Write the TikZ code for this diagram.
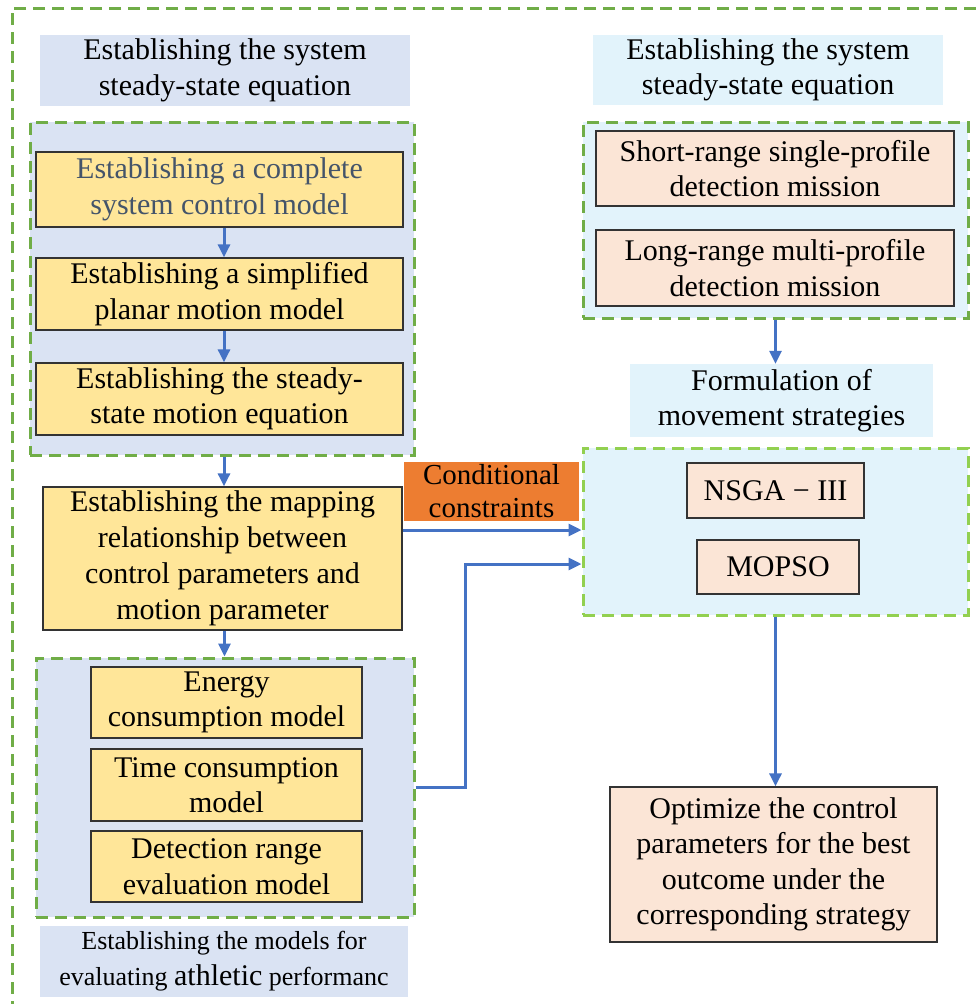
\documentclass[tikz,border=0pt]{standalone}
\usepackage{fontspec}
\setmainfont{Liberation Serif}
\newfontfamily\tnr{Liberation Serif}
\usetikzlibrary{arrows.meta,positioning}
\definecolor{blueL}{HTML}{DAE3F3}
\definecolor{cyanL}{HTML}{E2F3FB}
\definecolor{yel}{HTML}{FFE699}
\definecolor{peach}{HTML}{FBE5D6}
\definecolor{orng}{HTML}{ED7D31}
\definecolor{grn}{HTML}{70AD47}
\definecolor{lime}{HTML}{92D050}
\definecolor{arrblue}{HTML}{4472C4}
\definecolor{boxtxt}{HTML}{44546A}
\tikzset{
  base/.style={inner sep=0pt, align=center, font=\tnr\fontsize{30}{35.5}\selectfont},
  hdr/.style={base, rectangle},
  grp/.style={rectangle, draw=grn, line width=3pt, dash pattern=on 12pt off 7pt, inner sep=0pt},
  ybox/.style={base, draw=black!80, line width=1.3pt, fill=yel},
  pbox/.style={base, draw=black!80, line width=1.3pt, fill=peach},
  arr/.style={draw=arrblue, line width=3pt, -{Triangle[length=13pt,width=12pt]}},
}
\begin{document}
\begin{tikzpicture}[x=1pt,y=-1pt]
\useasboundingbox (0,0) rectangle (976,1004);
\fill[white] (0,0) rectangle (976,1004);
% outer frame
\draw[grp] (976,8) -- (12,8) -- (12,1004);
% left column
\node[hdr, fill=blueL, minimum width=370pt, minimum height=71pt] (hdrL) at (225,70.5) {Establishing the system\\steady-state equation};
\node[grp, fill=blueL, minimum width=384pt, minimum height=333pt] (grpL1) at (222,288.5) {};
\node[ybox, text=boxtxt, minimum width=367pt, minimum height=75pt] (b1) at (219.5,189.5) {Establishing a complete\\system control model};
\node[ybox, minimum width=367pt, minimum height=72pt] (b2) at (219.5,294) {Establishing a simplified\\planar motion model};
\node[ybox, minimum width=367pt, minimum height=72pt] (b3) at (219.5,399) {Establishing the steady-\\state motion equation};
\node[ybox, minimum width=359pt, minimum height=143pt, font=\tnr\fontsize{30}{36}\selectfont] (b4) at (222.5,558.5) {Establishing the mapping\\relationship between\\control parameters and\\motion parameter};
\node[grp, fill=blueL, minimum width=378pt, minimum height=259pt] (grpL2) at (225,787.5) {};
\node[ybox, minimum width=271pt, minimum height=71pt] (b5) at (226.5,702.5) {Energy\\consumption model};
\node[ybox, minimum width=271pt, minimum height=72pt] (b6) at (226.5,785) {Time consumption\\model};
\node[ybox, minimum width=271pt, minimum height=71pt] (b7) at (226.5,866.5) {Detection range\\evaluation model};
\node[hdr, fill=blueL, minimum width=368pt, minimum height=71pt, font=\tnr\fontsize{26}{36}\selectfont] (hdrB) at (224,961.5) {Establishing the models for\\evaluating {\fontsize{30}{36}\selectfont athletic} performanc};
% conditional constraints
\node[hdr, fill=orng, minimum width=175pt, minimum height=59pt, font=\tnr\fontsize{29}{33}\selectfont] (cond) at (491.5,491.5) {Conditional\\constraints};
% right column
\node[hdr, fill=cyanL, minimum width=350pt, minimum height=70pt] (hdrR) at (768,70) {Establishing the system\\steady-state equation};
\node[grp, fill=cyanL, minimum width=385pt, minimum height=196pt] (grpR1) at (775.5,220) {};
\node[pbox, minimum width=358pt, minimum height=75pt] (r1) at (775,168.5) {Short-range single-profile\\detection mission};
\node[pbox, minimum width=358pt, minimum height=76pt] (r2) at (775,268) {Long-range multi-profile\\detection mission};
\node[hdr, fill=cyanL, minimum width=303pt, minimum height=73pt] (form) at (781.5,400.5) {Formulation of\\movement strategies};
\node[grp, draw=lime, fill=cyanL, minimum width=385pt, minimum height=167pt] (grpR2) at (775.5,531.5) {};
\node[pbox, minimum width=177pt, minimum height=55pt] (nsga) at (775.5,490.5) {NSGA − III};
\node[pbox, minimum width=162pt, minimum height=54pt] (mopso) at (778,567) {MOPSO};
\node[pbox, minimum width=327pt, minimum height=155pt] (final) at (773.5,864.5) {Optimize the control\\parameters for the best\\outcome under the\\corresponding strategy};
% arrows
\draw[arr] ([xshift=4.5pt]b1.south) -- ([xshift=4.5pt]b2.north);
\draw[arr] ([xshift=4.5pt]b2.south) -- ([xshift=4.5pt]b3.north);
\draw[arr] ([xshift=2pt]grpL1.south) -- ([xshift=2pt]grpL1.south |- b4.north);
\draw[arr] ([xshift=2pt]b4.south) -- ([xshift=2pt]b4.south |- grpL2.north);
\draw[arr] ([yshift=28.5pt]b4.east) -- ([yshift=28.5pt]b4.east -| grpR2.west);
\draw[arr] (grpL2.east) -- ++(50,0) |- ([yshift=-32.5pt]grpR2.west);
\draw[arr] (grpR1.south) -- (grpR1.south |- form.north);
\draw[arr] (grpR2.south) -- (grpR2.south |- final.north);
\end{tikzpicture}
\end{document}
